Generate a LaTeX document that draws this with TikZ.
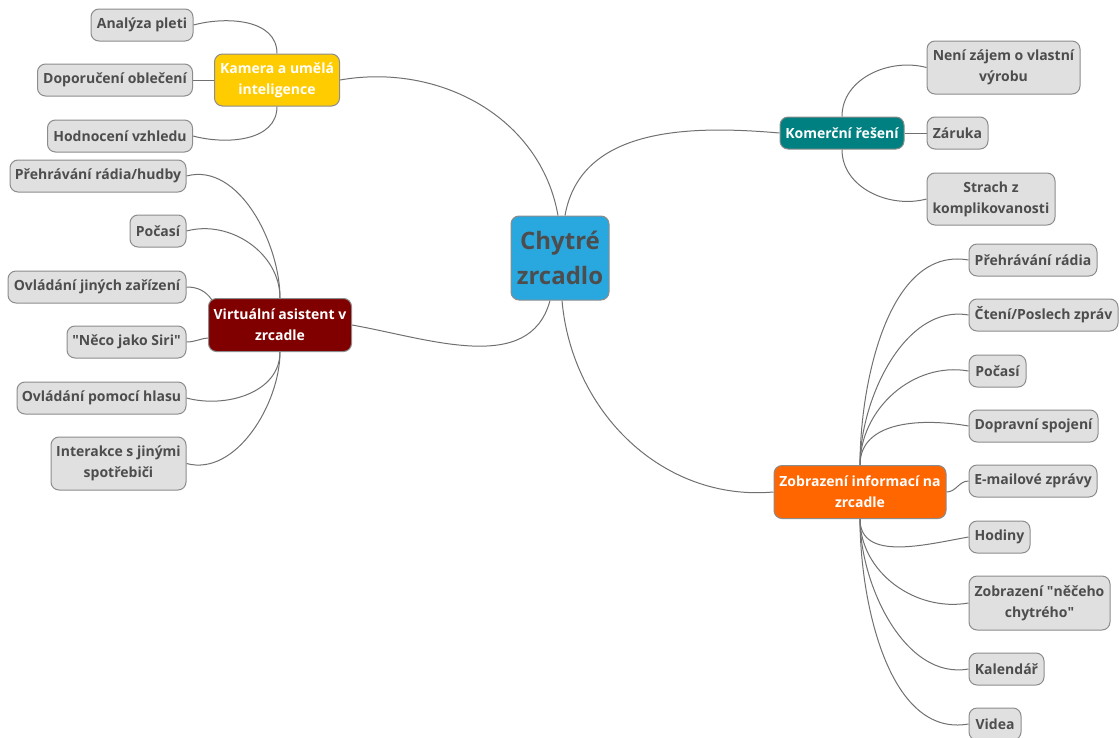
\documentclass[tikz,border=0pt]{standalone}
\usepackage{fontspec}
\setmainfont{Open Sans}
\newfontfamily\plainq{Open Sans}
\usetikzlibrary{calc,backgrounds}
\definecolor{leaffill}{HTML}{E0E0E0}
\definecolor{leafdraw}{HTML}{8C8C8C}
\definecolor{txt}{HTML}{4D4D4D}
\definecolor{edgec}{HTML}{707070}
\definecolor{cblue}{HTML}{29A8E0}
\definecolor{cyellow}{HTML}{FFCC00}
\definecolor{cred}{HTML}{800000}
\definecolor{cteal}{HTML}{008080}
\definecolor{corange}{HTML}{FF6600}
\newcommand{\dq}{{\plainq\char"22}}
\tikzset{
  box/.style={rounded corners=8pt, draw=leafdraw, line width=1pt, inner sep=0pt, align=center,
    font=\fontsize{14}{21}\selectfont\bfseries},
  leaf/.style={box, fill=leaffill, text=txt},
  branch/.style={box, text=white},
  link/.style={draw=edgec, line width=1pt},
}
\begin{document}
\begin{tikzpicture}[x=1pt,y=1pt]
\useasboundingbox (0,0) rectangle (1120,-737);
% center
\node[box, fill=cblue, text=txt, minimum width=98pt, minimum height=84pt,
  font=\fontsize{24}{35}\selectfont\bfseries] (c) at (560,-258) {Chytré\\zrcadlo};
% branches
\node[branch, fill=cyellow, minimum width=125pt, minimum height=52pt] (k) at (277,-80) {Kamera a umělá\\inteligence};
\node[branch, fill=cred, minimum width=143pt, minimum height=53pt] (v) at (280,-325) {Virtuální asistent v\\zrcadle};
\node[branch, fill=cteal, minimum width=124pt, minimum height=32pt] (kom) at (842,-133) {Komerční řešení};
\node[branch, fill=corange, minimum width=172pt, minimum height=53pt] (z) at (860,-492) {Zobrazení informací na\\zrcadle};
% Kamera leaves
\node[leaf, minimum width=102pt, minimum height=32pt] (k1) at (142,-25) {Analýza pleti};
\node[leaf, minimum width=155pt, minimum height=32pt] (k2) at (115,-80) {Doporučení oblečení};
\node[leaf, minimum width=145pt, minimum height=32pt] (k3) at (120,-136) {Hodnocení vzhledu};
% Virtual leaves
\node[leaf, minimum width=176pt, minimum height=32pt] (v1) at (98,-176) {Přehrávání rádia/hudby};
\node[leaf, minimum width=56pt, minimum height=32pt] (v2) at (158,-231) {Počasí};
\node[leaf, minimum width=178pt, minimum height=32pt] (v3) at (97,-287) {Ovládání jiných zařízení};
\node[leaf, minimum width=119pt, minimum height=32pt] (v4) at (126.5,-342) {\dq Něco jako Siri\dq};
\node[leaf, minimum width=169pt, minimum height=32pt] (v5) at (101.5,-398) {Ovládání pomocí hlasu};
\node[leaf, minimum width=135pt, minimum height=53pt] (v6) at (118.5,-463.5) {Interakce s jinými\\spotřebiči};
% Komercni leaves
\node[leaf, minimum width=153pt, minimum height=53pt] (n1) at (1003.5,-67.5) {Není zájem o vlastní\\výrobu};
\node[leaf, minimum width=61pt, minimum height=32pt] (n2) at (957.5,-133) {Záruka};
\node[leaf, minimum width=128pt, minimum height=52pt] (n3) at (991,-199) {Strach z\\komplikovanosti};
% Zobrazeni leaves
\node[leaf, minimum width=128pt, minimum height=32pt] (z1) at (1033,-260) {Přehrávání rádia};
\node[leaf, minimum width=149pt, minimum height=32pt] (z2) at (1043.5,-315) {Čtení/Poslech zpráv};
\node[leaf, minimum width=57pt, minimum height=32pt] (z3) at (997.5,-371) {Počasí};
\node[leaf, minimum width=129pt, minimum height=32pt] (z4) at (1033.5,-426) {Dopravní spojení};
\node[leaf, minimum width=128pt, minimum height=32pt] (z5) at (1033,-481) {E-mailové zprávy};
\node[leaf, minimum width=61pt, minimum height=32pt] (z6) at (999.5,-537) {Hodiny};
\node[leaf, minimum width=141pt, minimum height=54pt] (z7) at (1039.5,-603) {Zobrazení \dq něčeho\\chytrého\dq};
\node[leaf, minimum width=75pt, minimum height=32pt] (z8) at (1006.5,-669) {Kalendář};
\node[leaf, minimum width=52pt, minimum height=32pt] (z9) at (995,-724) {Videa};
% coordinates
\coordinate (ctl) at ($(c.north)+(-2,0)$);
\coordinate (ctr) at ($(c.north)+(5,0)$);
\coordinate (cbl) at ($(c.south)+(-10,0)$);
\coordinate (cbr) at ($(c.south)+(2,0)$);
\coordinate (vsiri) at ($(v.south west)+(0,14)$);
\coordinate (vcorner) at ($(v.north west)+(4,-2)$);
\begin{scope}[on background layer]
\draw[link] (k.east) to[out=10,in=100] (ctl);
\draw[link] (ctr) to[out=80,in=175] (kom.west);
\draw[link] (v.east) to[out=-10,in=-105] (cbl);
\draw[link] (cbr) to[out=-85,in=185] (z.west);
% Kamera
\draw[link] (k1.east) to[out=15,in=90] (k.north);
\draw[link] (k2.east) -- (k.west);
\draw[link] (k3.east) to[out=-15,in=-90] (k.south);
% Virtual
\draw[link] (v1.east) to[out=15,in=90,looseness=0.9] (v.north);
\draw[link] (v2.east) to[out=15,in=90] (v.north);
\draw[link] (v3.east) to[out=0,in=125] (vcorner);
\draw[link] (v4.east) to[out=0,in=185] (vsiri);
\draw[link] (v5.east) to[out=-15,in=-90] (v.south);
\draw[link] (v6.east) to[out=-15,in=-90,looseness=0.9] (v.south);
% Komercni
\draw[link] (kom.north) to[out=90,in=165] (n1.west);
\draw[link] (kom.east) -- (n2.west);
\draw[link] (kom.south) to[out=-90,in=195] (n3.west);
% Zobrazeni
\draw[link] (z.north) to[out=90,in=170,looseness=0.9] (z1.west);
\draw[link] (z.north) to[out=90,in=170,looseness=0.9] (z2.west);
\draw[link] (z.north) to[out=90,in=170] (z3.west);
\draw[link] (z.north) to[out=90,in=170] (z4.west);
\draw[link] (z.east) to[out=0,in=180] (z5.west);
\draw[link] (z.south) to[out=-90,in=190] (z6.west);
\draw[link] (z.south) to[out=-90,in=190] (z7.west);
\draw[link] (z.south) to[out=-90,in=190,looseness=0.9] (z8.west);
\draw[link] (z.south) to[out=-90,in=190,looseness=0.9] (z9.west);
\end{scope}
\end{tikzpicture}
\end{document}
